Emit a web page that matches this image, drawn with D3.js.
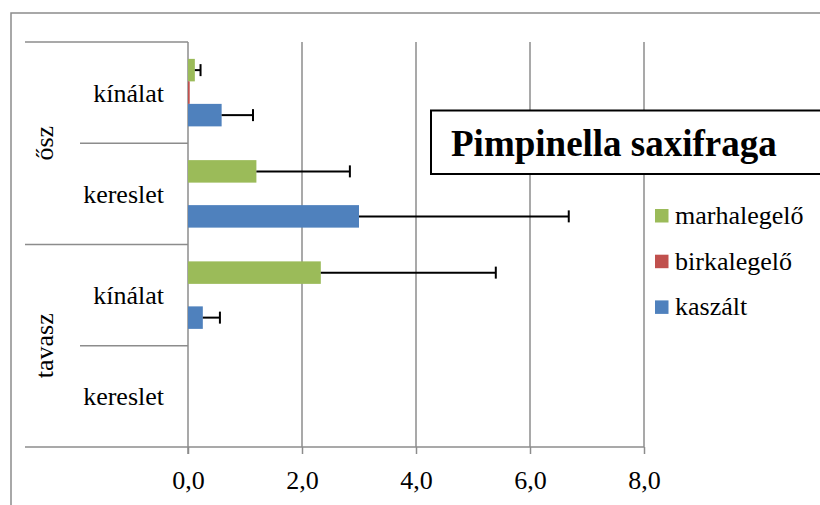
<!DOCTYPE html>
<html>
<head>
<meta charset="utf-8">
<script src="https://cdn.jsdelivr.net/npm/d3@7"></script>
<style>
  html, body { margin: 0; padding: 0; background: #fff; }
  svg { display: block; }
  svg text { font-family: "Liberation Serif", Tinos, "Times New Roman", Times, serif; fill: #000; }
</style>
</head>
<body>
<svg id="chart" width="820" height="505"></svg>
<script>
// ---- data ----
const seasons = ["ősz", "tavasz"];
const types = ["kínálat", "kereslet"];
const categories = ["ősz|kínálat", "ősz|kereslet", "tavasz|kínálat", "tavasz|kereslet"];
const seriesNames = ["marhalegelő", "birkalegelő", "kaszált"];
const seriesColors = ["#9BBB59", "#C0504D", "#4F81BD"];
const marhalegelo = [0.12, 1.20, 2.33, 0];
const marhalegeloErr = [0.10, 1.64, 3.07, 0];
const birkalegelo = [0.03, 0, 0, 0];
const birkalegeloErr = [0, 0, 0, 0];
const kaszalt = [0.59, 3.00, 0.26, 0];
const kaszaltErr = [0.55, 3.68, 0.30, 0];
const xTicks = [0, 2, 4, 6, 8];
const title = "Pimpinella saxifraga";

const seriesValues = [marhalegelo, birkalegelo, kaszalt];
const seriesErrs = [marhalegeloErr, birkalegeloErr, kaszaltErr];

// ---- layout ----
const FONT = '"Liberation Serif", Tinos, "Times New Roman", Times, serif';
const svg = d3.select("#chart");
const plotLeft = 188, plotRight = 644, plotTop = 42, plotBottom = 447;
const gridColor = "#8c8c8c";
const fontSize = 26;

const x = d3.scaleLinear().domain([0, 8]).range([plotLeft, plotRight]);
const y = d3.scaleBand().domain(categories).range([plotTop, plotBottom]).padding(0);
const yInner = d3.scaleBand().domain(seriesNames).range([0, y.bandwidth()]).paddingInner(0).paddingOuter(0.75);
const ySeason = d3.scaleBand().domain(seasons).range([plotTop, plotBottom]).padding(0);

// outer frame
svg.append("rect")
  .attr("x", 11).attr("y", 13).attr("width", 830).attr("height", 520)
  .attr("fill", "none").attr("stroke", gridColor).attr("stroke-width", 1.5);

// vertical grid lines
svg.append("g").selectAll("line").data(xTicks.filter(d => d > 0)).join("line")
  .attr("x1", d => x(d)).attr("x2", d => x(d))
  .attr("y1", plotTop).attr("y2", plotBottom)
  .attr("stroke", gridColor).attr("stroke-width", 1.5);

// bottom axis
const xAxis = d3.axisBottom(x).tickValues(xTicks).tickSize(7).tickPadding(10)
  .tickFormat(d => d3.format(".1f")(d).replace(".", ","));
const gx = svg.append("g").attr("transform", `translate(0,${plotBottom})`).call(xAxis)
  .attr("font-family", FONT).attr("font-size", fontSize);
gx.select(".domain").attr("stroke", gridColor).attr("stroke-width", 1.5).attr("d", `M25,0H${plotRight}`);
gx.selectAll(".tick line").attr("stroke", gridColor).attr("stroke-width", 1.5);
gx.selectAll(".tick text").attr("font-family", FONT).attr("font-size", fontSize).attr("fill", "#000").attr("dy", "0.95em");

// category separators (hierarchical axis)
const boundaries = [];
categories.forEach((c, i) => boundaries.push({ y: y(c), outer: i % 2 === 0 }));
svg.append("g").selectAll("line").data(boundaries).join("line")
  .attr("x1", d => d.outer ? 25 : 80).attr("x2", plotLeft)
  .attr("y1", d => d.y).attr("y2", d => d.y)
  .attr("stroke", gridColor).attr("stroke-width", 1.5);

// vertical axis line
svg.append("line")
  .attr("x1", plotLeft).attr("x2", plotLeft).attr("y1", plotTop).attr("y2", plotBottom + 7)
  .attr("stroke", gridColor).attr("stroke-width", 1.5);

// category labels
svg.append("g").selectAll("text").data(categories).join("text")
  .attr("x", 164).attr("y", d => y(d) + y.bandwidth() / 2)
  .attr("dy", "0.35em").attr("text-anchor", "end")
  .attr("font-family", FONT).attr("font-size", fontSize)
  .text(d => d.split("|")[1]);

// season labels
svg.append("g").selectAll("text").data(seasons).join("text")
  .attr("transform", d => `translate(53,${ySeason(d) + ySeason.bandwidth() / 2}) rotate(-90)`)
  .attr("text-anchor", "middle").attr("font-family", FONT).attr("font-size", fontSize)
  .text(d => d);

// bars
seriesNames.forEach((s, si) => {
  const g = svg.append("g");
  g.selectAll("rect").data(categories).join("rect")
    .attr("x", x(0))
    .attr("y", (c) => y(c) + yInner(s))
    .attr("width", (c, i) => x(seriesValues[si][i]) - x(0))
    .attr("height", yInner.bandwidth())
    .attr("fill", seriesColors[si]);
  const errData = categories.map((c, i) => ({ c, v: seriesValues[si][i], e: seriesErrs[si][i] })).filter(d => d.e > 0);
  const eg = svg.append("g").attr("stroke", "#000").attr("stroke-width", 2);
  eg.selectAll("line.e").data(errData).join("line").attr("class", "e")
    .attr("x1", d => x(d.v)).attr("x2", d => x(d.v + d.e))
    .attr("y1", d => y(d.c) + yInner(s) + yInner.bandwidth() / 2)
    .attr("y2", d => y(d.c) + yInner(s) + yInner.bandwidth() / 2);
  eg.selectAll("line.cap").data(errData).join("line").attr("class", "cap")
    .attr("x1", d => x(d.v + d.e)).attr("x2", d => x(d.v + d.e))
    .attr("y1", d => y(d.c) + yInner(s) + yInner.bandwidth() / 2 - 6)
    .attr("y2", d => y(d.c) + yInner(s) + yInner.bandwidth() / 2 + 6);
});

// title box
svg.append("rect")
  .attr("x", 431).attr("y", 110.5).attr("width", 420).attr("height", 63.5)
  .attr("fill", "#fff").attr("stroke", "#000").attr("stroke-width", 2);
svg.append("text")
  .attr("x", 451).attr("y", 156).attr("font-family", FONT).attr("font-size", 37).attr("font-weight", "bold")
  .text(title);

// legend
const legend = svg.append("g").attr("transform", "translate(655,209)");
const li = legend.selectAll("g").data(seriesNames).join("g")
  .attr("transform", (d, i) => `translate(0,${i * 45.7})`);
li.append("rect").attr("width", 13.5).attr("height", 13.5).attr("fill", (d, i) => seriesColors[i]);
li.append("text").attr("x", 20).attr("y", 15).attr("font-family", FONT).attr("font-size", fontSize).text(d => d);
</script>
</body>
</html>
